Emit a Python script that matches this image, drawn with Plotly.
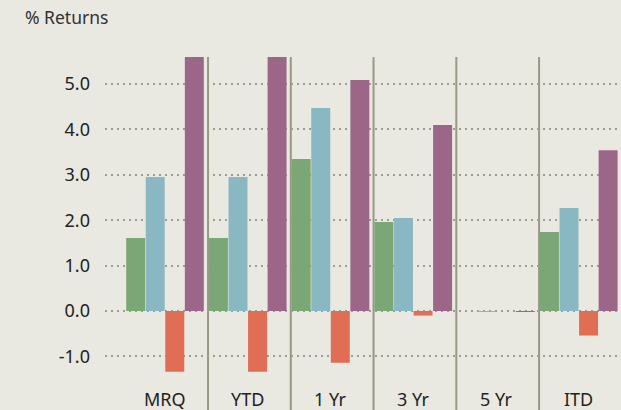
import plotly.graph_objects as go

categories = ["MRQ", "YTD", "1 Yr", "3 Yr", "5 Yr", "ITD"]
series_green = [1.61, 1.61, 3.35, 1.96, 0.0, 1.74]
series_blue = [2.95, 2.95, 4.47, 2.05, -0.02, 2.27]
series_orange = [-1.34, -1.34, -1.14, -0.10, 0.0, -0.54]
series_purple = [6.2, 6.2, 5.09, 4.10, -0.02, 3.54]
y_ticks = [-1, 0, 1, 2, 3, 4, 5]
y_tick_labels = ["-1.0", "0.0", "1.0", "2.0", "3.0", "4.0", "5.0"]

colors = ["#7ba776", "#8ab8c2", "#e06e54", "#9b6687"]
bg = "#e9e8e1"
font_family = "Noto Sans, Open Sans, sans-serif"

W, H = 621, 410
L, T = 105, 57

fig = go.Figure()
for vals, col in zip([series_green, series_blue, series_orange, series_purple], colors):
    fig.add_trace(go.Bar(x=categories, y=vals, marker=dict(color=col, line=dict(width=0)),
                         showlegend=False, hoverinfo="skip"))

shapes = []
for i in range(len(categories) - 1):
    shapes.append(dict(type="line", xref="x", yref="paper", x0=i + 0.52, x1=i + 0.52,
                       y0=0, y1=1, line=dict(color="#999886", width=2), layer="below"))

annotations = [dict(x=c, y=-1.93, xref="x", yref="y", text=c, showarrow=False,
                    yanchor="middle",
                    font=dict(size=18, color="#222222", family=font_family))
               for c in categories]
annotations.append(dict(x=(23 - L) / (W - L), y=(H - 17) / (H - T), xref="paper", yref="paper",
                        text="% Returns", showarrow=False, xanchor="left", yanchor="middle",
                        font=dict(size=17.5, color="#333333", family=font_family)))

fig.update_layout(
    width=W, height=H,
    margin=dict(l=L, r=0, t=T, b=0, autoexpand=False),
    paper_bgcolor=bg, plot_bgcolor=bg,
    barmode="group", bargap=0.055, bargroupgap=0.03,
    shapes=shapes, annotations=annotations,
    xaxis=dict(range=[-0.725, 5.51], showticklabels=False, showgrid=False,
               zeroline=False, showline=False, ticks=""),
    yaxis=dict(range=[-2.18, 5.595], tickvals=y_ticks, ticktext=y_tick_labels,
               showgrid=True, gridcolor="#9d9d95", gridwidth=2, griddash="2px,4px",
               zeroline=False, showline=False, ticks="", ticklabelstandoff=14,
               tickfont=dict(size=18, color="#222222", family=font_family)),
)

fig.write_html("out.html", config={"displayModeBar": False},
               post_script="document.body.style.margin='0';document.body.style.background='%s';" % bg)
